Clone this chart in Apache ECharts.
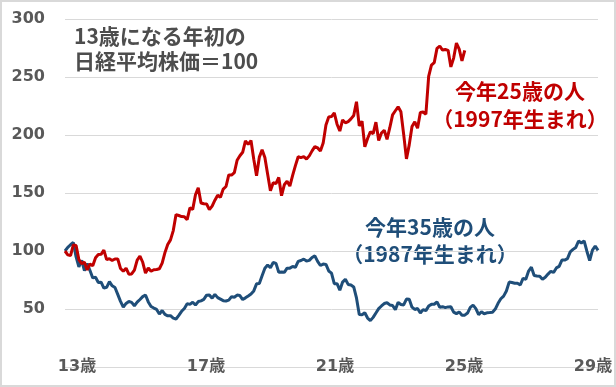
<!DOCTYPE html>
<html>
<head>
<meta charset="utf-8">
<script src="https://cdn.jsdelivr.net/npm/echarts@6/dist/echarts.min.js"></script>
<style>
html,body{margin:0;padding:0;background:#fff;}
#chart{width:616px;height:387px;}
</style>
</head>
<body>
<div id="chart"></div>
<script>
// Age tick labels (years)
const ageTicks = [13, 17, 21, 25, 29];
const ageSuffix = '歳';
// Y axis ticks
const yTicks = [0, 50, 100, 150, 200, 250, 300];

// 今年35歳の人 (1987年生まれ): monthly index, 13歳になる年初 = 100
const blueValues = [100,
103.2,105.4,107.4,94.9,86.3,92.0,83.1,89.1,83.2,76.8,77.4,72.8,
73.1,68.0,68.7,73.6,70.0,68.5,62.6,56.6,51.6,54.8,56.5,55.7,
52.8,55.9,58.2,60.7,62.1,56.1,52.2,50.8,49.6,45.6,48.7,45.3,
44.1,44.2,42.1,41.4,44.5,48.0,50.5,54.6,54.0,55.8,53.4,56.4,
57.0,58.3,61.9,62.1,59.3,62.6,59.8,58.5,57.2,56.9,57.6,60.7,
60.1,62.0,61.6,58.1,59.6,61.2,62.9,65.6,71.7,71.9,78.6,85.1,
87.9,85.6,90.1,89.3,81.7,81.9,81.6,85.2,85.2,86.6,86.0,91.0,
91.8,93.0,91.3,91.9,94.4,95.8,91.1,87.5,88.7,88.4,82.8,80.9,
71.8,71.8,66.2,73.2,75.7,71.2,70.7,69.0,59.5,45.3,45.0,46.8,
42.2,40.0,42.8,46.6,50.3,52.6,54.7,55.4,53.5,53.0,49.4,55.7,
53.9,53.5,58.6,58.4,51.6,49.6,50.4,46.6,49.5,48.6,52.5,54.0,
54.1,56.1,51.5,52.0,51.2,51.8,51.9,47.3,46.0,47.5,44.6,44.7,
46.5,51.4,53.3,50.3,45.1,47.6,45.9,46.7,46.9,47.2,49.9,54.9,
58.8,61.1,65.5,73.2,72.8,72.2,72.2,70.7,76.4,75.7,82.7,86.0,
78.8,78.4,78.3,75.6,77.3,80.1,82.5,81.5,85.4,86.7,92.2,92.2,
93.4,99.3,101.4,103.1,108.6,106.9,108.7,99.8,91.8,100.8,104.3,100.5
];

// 今年25歳の人 (1997年生まれ)
const redValues = [100,
96.7,96.0,105.2,104.8,92.6,89.0,90.4,83.7,88.8,87.3,94.2,97.0,
97.1,100.7,92.5,93.4,91.9,93.1,93.2,84.9,82.5,85.2,80.0,80.2,
83.5,92.2,95.6,90.3,81.0,85.4,82.5,83.8,84.1,84.7,89.6,98.6,
105.6,109.6,117.6,131.4,130.6,129.7,129.6,127.0,137.1,135.9,148.5,154.5,
141.4,140.7,140.6,135.6,138.7,143.8,148.1,146.3,153.4,155.6,165.6,165.5,
167.6,178.2,182.1,185.1,195.0,191.9,195.2,179.1,164.9,180.9,187.2,180.5,
166.1,152.0,158.9,158.0,163.4,147.7,157.1,160.1,156.0,165.2,173.6,181.2,
180.5,181.3,179.3,182.0,186.3,190.0,188.9,186.3,193.0,208.7,215.5,215.9,
219.0,209.3,203.4,213.0,210.5,211.5,213.9,216.8,228.7,207.8,211.9,189.8,
197.0,202.8,201.1,211.1,195.3,201.7,204.1,196.3,206.3,217.4,220.9,224.3,
220.0,200.5,179.4,191.5,207.4,211.3,205.9,219.4,219.8,217.9,250.6,260.2,
262.3,274.7,276.7,273.2,273.7,273.0,258.7,266.3,279.3,274.0,263.8,273.0
];

const months = blueValues.map((_, i) => i);

const chart = echarts.init(document.getElementById('chart'));
const labelFont = 'DejaVu Sans, "Noto Sans CJK JP", sans-serif';
const cjkFont = '"Noto Sans CJK JP", sans-serif';

chart.setOption({
  animation: false,
  backgroundColor: '#fff',
  grid: { left: 65, right: 18, top: 19, bottom: 20, containLabel: false },
  xAxis: [
    {
      type: 'category', data: months, boundaryGap: false,
      axisLine: { show: false }, axisTick: { show: false },
      axisLabel: { show: false }, splitLine: { show: false }
    },
    {
      type: 'value', min: 12.628, max: 29.155, position: 'bottom',
      axisLine: { show: false }, axisTick: { show: false }, splitLine: { show: false },
      axisLabel: {
        customValues: ageTicks,
        formatter: v => v + ageSuffix,
        margin: 0, verticalAlign: 'middle',
        color: '#595959', fontSize: 16, fontWeight: 'bold', fontFamily: labelFont
      }
    }
  ],
  yAxis: {
    type: 'value', min: yTicks[0], max: yTicks[yTicks.length - 1], interval: 50,
    axisLine: { show: false }, axisTick: { show: false },
    splitLine: { lineStyle: { color: '#d9d9d9', width: 1 } },
    axisLabel: {
      margin: 20, color: '#595959', fontSize: 16, fontWeight: 'bold', fontFamily: labelFont,
      formatter: v => v === 0 ? '' : String(v)
    }
  },
  series: [
    {
      type: 'line', data: blueValues, xAxisIndex: 0, showSymbol: false, symbol: 'none',
      lineStyle: { color: '#1F4E79', width: 3 }, itemStyle: { color: '#1F4E79' }
    },
    {
      type: 'line', data: redValues, xAxisIndex: 0, showSymbol: false, symbol: 'none',
      lineStyle: { color: '#C00000', width: 3 }, itemStyle: { color: '#C00000' }
    }
  ],
  graphic: [
    { type: 'rect', silent: true, z: 100,
      shape: { x: 1, y: 1, width: 614, height: 385 },
      style: { fill: 'none', stroke: '#d9d9d9', lineWidth: 2 } },
    { type: 'text', left: 74, top: 24,
      style: { text: '13歳になる年初の\n日経平均株価＝100', font: 'bold 21px ' + cjkFont,
               lineHeight: 25, fill: '#4d4d4d' } },
    { type: 'text', x: 520, y: 105,
      style: { text: '今年25歳の人\n（1997年生まれ）', font: 'bold 21px ' + cjkFont,
               lineHeight: 28, fill: '#C00000', align: 'center', verticalAlign: 'middle' } },
    { type: 'text', x: 430, y: 241,
      style: { text: '今年35歳の人\n（1987年生まれ）', font: 'bold 21px ' + cjkFont,
               lineHeight: 27, fill: '#1F4E79', align: 'center', verticalAlign: 'middle' } }
  ]
});
</script>
</body>
</html>
